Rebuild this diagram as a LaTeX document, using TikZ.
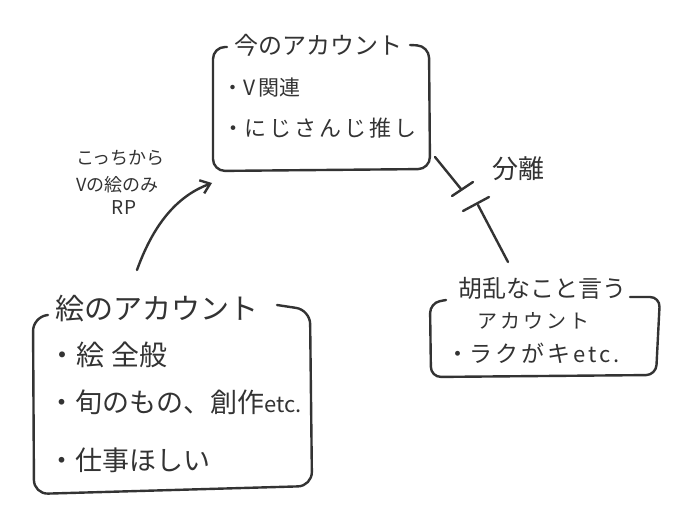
\documentclass[tikz,border=0pt]{standalone}
\usepackage{fontspec}
\setmainfont{Noto Sans CJK JP}
\usetikzlibrary{arrows.meta}
\definecolor{ink}{HTML}{333333}
\tikzset{
  pen/.style={draw=ink, line width=2.4pt, line cap=round, line join=round},
  txt/.style={text=ink, inner sep=0pt, font=#1},
}
\newcommand{\fs}[1]{\fontsize{#1}{#1}\selectfont}
\newcommand{\gp}{\hspace{3pt}}
\begin{document}
\begin{tikzpicture}[x=1pt,y=-1pt]
\useasboundingbox[fill=white] (0,0) rectangle (680,521);
% ---------- top box ----------
\node[txt=\fs{24}] (t1) at (318,45) {今のアカウント};
\node[txt=\fs{21}, anchor=west] (t1a) at (222,88) {・V\gp 関連};
\node[txt=\fs{22}, anchor=west] (t1b) at (222,128) {・に\gp じ\gp さ\gp ん\gp じ\gp 推\gp し};
\coordinate (t1l) at (227,47);
\coordinate (t1r) at (410,45);
\draw[pen, rounded corners=12pt] (t1l) -- (213,47) -- (213,171) -- (430,169) -- (429,46) -- (t1r);
% ---------- left box ----------
\node[txt=\fs{29}] (t2) at (157,309) {絵のアカウント};
\node[txt=\fs{28}, anchor=west] (t2a) at (48,355) {・絵\hspace{0.25em}全般};
\node[txt=\fs{27}, anchor=west] (t2b) at (48,402) {・旬のもの、創作\fs{22}etc.};
\node[txt=\fs{27}, anchor=west] (t2c) at (48,460) {・仕事ほしい};
\coordinate (t2l) at (48,315);
\coordinate (t2r) at (277,305);
\draw[pen, rounded corners=14pt] (t2l) -- (33,317) -- (34,494) -- (312,486) -- (310,310) -- (t2r);
% ---------- right box ----------
\node[txt=\fs{24}] (t3) at (542,288) {胡乱なこと言う};
\node[txt=\fs{20}] (t3a) at (533,321) {ア\gp カ\gp ウ\gp ン\gp ト};
\node[txt=\fs{23}, anchor=west] (t3b) at (446,353) {・ラ\gp ク\gp が\gp キ\gp\fs{22}e\gp t\gp c\gp .};
\coordinate (t3l) at (446,300);
\coordinate (t3r) at (630,297);
\draw[pen, rounded corners=10pt] (t3l) -- (430,303) -- (431,377) -- (656,375) -- (660,297) -- (t3r);
% ---------- arrow ----------
\coordinate (a0) at (137,270);
\coordinate (a1) at (212,183);
\draw[pen, -{Straight Barb[length=9pt,width=14pt,line width=2.4pt]}] (a0) .. controls (155,220) and (180,195) .. (a1);
\node[txt=\fs{18}, anchor=west] (lab1) at (76,158) {こっちから};
\node[txt=\fs{18}, anchor=west] (lab2) at (76,185) {Vの絵のみ};
\node[txt=\fs{19}] (lab3) at (124,208) {RP};
% ---------- separation ----------
\coordinate (s0) at (435,157);
\coordinate (s1) at (461,189);
\coordinate (s2) at (478,205);
\coordinate (s3) at (508,262);
\draw[pen] (s0) -- (s1);
\draw[pen] (452,196) -- (473,182);
\draw[pen] (463,211) -- (489,197);
\draw[pen] (s2) -- (s3);
\node[txt=\fs{26}] (sep) at (518,169) {分離};
\end{tikzpicture}
\end{document}
